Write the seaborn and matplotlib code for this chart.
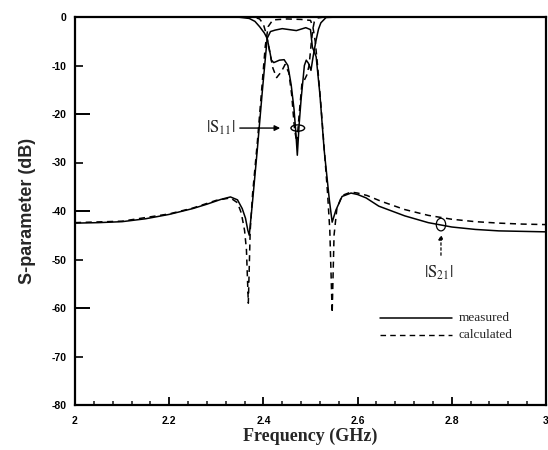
import numpy as np
import pandas as pd
import matplotlib
matplotlib.use("Agg")
import matplotlib.pyplot as plt
from matplotlib.patches import Ellipse
from matplotlib.ticker import MultipleLocator, FormatStrFormatter
import seaborn as sns

# |S21| measured (GHz, dB)
s21_meas_f = [2.00, 2.05, 2.10, 2.15, 2.20, 2.25, 2.28, 2.31, 2.33, 2.345, 2.355, 2.362, 2.367,
              2.370, 2.377, 2.387, 2.398, 2.408, 2.415, 2.425, 2.44, 2.455, 2.47, 2.48, 2.49,
              2.50, 2.504, 2.512, 2.52, 2.529, 2.540, 2.546, 2.554, 2.567, 2.586, 2.60, 2.618,
              2.645, 2.70, 2.75, 2.80, 2.85, 2.90, 2.95, 3.00]
s21_meas_db = [-42.5, -42.4, -42.2, -41.6, -40.7, -39.5, -38.6, -37.6, -37.1, -37.7, -39.5, -41.5, -44.0,
               -45.0, -38.0, -27.4, -15.0, -4.4, -3.0, -2.7, -2.4, -2.6, -2.8, -2.5, -2.2,
               -2.6, -6.2, -8.2, -16.0, -27.4, -37.7, -42.3, -39.8, -37.0, -36.3, -36.6, -37.3,
               -39.0, -41.0, -42.4, -43.3, -43.8, -44.1, -44.2, -44.3]

# |S21| calculated
s21_calc_f = [2.00, 2.10, 2.20, 2.25, 2.30, 2.33, 2.345, 2.353, 2.360, 2.364, 2.368, 2.372, 2.377,
              2.387, 2.398, 2.404, 2.41, 2.42, 2.45, 2.48, 2.50, 2.505, 2.51, 2.515, 2.522,
              2.529, 2.536, 2.541, 2.546, 2.550, 2.556, 2.567, 2.586, 2.60, 2.62, 2.65, 2.70,
              2.75, 2.80, 2.85, 2.90, 2.95, 3.00]
s21_calc_db = [-42.4, -42.1, -40.6, -39.4, -37.8, -37.3, -38.3, -40.4, -44.0, -48.0, -59.0, -44.0, -36.5,
               -26.0, -13.0, -6.0, -2.0, -0.6, -0.4, -0.5, -0.7, -2.0, -5.0, -10.0, -18.0,
               -27.0, -36.0, -44.0, -61.0, -45.0, -39.5, -36.8, -36.1, -36.3, -36.8, -38.0, -39.7,
               -40.9, -41.7, -42.2, -42.5, -42.7, -42.8]

# |S11| measured
s11_meas_f = [2.00, 2.30, 2.349, 2.370, 2.382, 2.392, 2.402, 2.408, 2.413, 2.417, 2.422, 2.427,
              2.434, 2.444, 2.452, 2.459, 2.465, 2.469, 2.472, 2.476, 2.480, 2.487, 2.491,
              2.496, 2.501, 2.505, 2.508, 2.512, 2.517, 2.522, 2.533, 2.56, 3.00]
s11_meas_db = [0.0, 0.0, -0.05, -0.3, -0.9, -2.0, -3.3, -4.4, -6.8, -8.9, -9.4, -9.2,
               -8.9, -8.8, -10.0, -14.0, -19.0, -24.0, -28.5, -22.0, -17.0, -10.0, -8.9,
               -9.6, -11.0, -8.5, -6.8, -4.7, -2.5, -1.2, -0.1, 0.0, 0.0]

# |S11| calculated
s11_calc_f = [2.00, 2.38, 2.392, 2.400, 2.406, 2.413, 2.420, 2.428, 2.438, 2.446, 2.454, 2.460,
              2.466, 2.471, 2.476, 2.482, 2.487, 2.492, 2.497, 2.502, 2.505, 2.508, 2.515, 2.53, 3.00]
s11_calc_db = [0.0, -0.05, -0.4, -1.5, -3.5, -7.0, -10.5, -12.5, -11.3, -9.8, -11.5, -16.0,
               -23.0, -26.0, -20.0, -13.5, -13.0, -12.0, -10.0, -5.0, -2.5, -1.0, -0.2, 0.0, 0.0]

df = pd.concat([
    pd.DataFrame({"f": s21_meas_f, "dB": s21_meas_db, "curve": "s21_meas", "kind": "measured"}),
    pd.DataFrame({"f": s11_meas_f, "dB": s11_meas_db, "curve": "s11_meas", "kind": "measured"}),
    pd.DataFrame({"f": s21_calc_f, "dB": s21_calc_db, "curve": "s21_calc", "kind": "calculated"}),
    pd.DataFrame({"f": s11_calc_f, "dB": s11_calc_db, "curve": "s11_calc", "kind": "calculated"}),
], ignore_index=True)

sns.set_style("ticks")
plt.rcParams["font.family"] = ["Liberation Sans", "DejaVu Sans"]
SERIF = ["Liberation Serif", "DejaVu Serif"]

fig = plt.figure(figsize=(5.48, 4.5), dpi=100)
ax = fig.add_axes([75 / 548, 45 / 450, 471 / 548, 388 / 450])

sns.lineplot(data=df, x="f", y="dB", units="curve", style="kind", estimator=None, sort=False,
             color="black", dashes={"measured": "", "calculated": (4, 3)},
             style_order=["measured", "calculated"], linewidth=1.1, legend=False, ax=ax)

ax.set_xlim(2, 3)
ax.set_ylim(-80, 0)
ax.xaxis.set_major_locator(MultipleLocator(0.2))
ax.xaxis.set_minor_locator(MultipleLocator(0.04))
ax.xaxis.set_major_formatter(FormatStrFormatter("%g"))
ax.yaxis.set_major_locator(MultipleLocator(20))
ax.yaxis.set_minor_locator(MultipleLocator(10))
ax.yaxis.set_major_formatter(FormatStrFormatter("%d"))
ax.yaxis.set_minor_formatter(FormatStrFormatter("%d"))

for s in ax.spines.values():
    s.set_linewidth(1.6)
    s.set_color("black")

ax.tick_params(axis="x", which="major", direction="in", length=6, width=1.3, pad=8,
               labelsize=7.5, colors="black")
ax.tick_params(axis="x", which="minor", direction="in", length=3, width=1.2)
ax.tick_params(axis="y", which="major", direction="in", length=11, width=1.4, pad=6,
               labelsize=7.5, colors="black")
ax.tick_params(axis="y", which="minor", direction="in", length=5.5, width=1.4, pad=6,
               labelsize=7.5, labelcolor="black")
for lab in ax.get_xticklabels() + ax.get_yticklabels() + ax.get_yticklabels(minor=True):
    lab.set_fontweight("bold")

ax.set_xlabel("Frequency (GHz)", family=SERIF, fontweight="bold", fontsize=13, labelpad=1)
ax.set_ylabel("S-parameter (dB)", fontweight="bold", fontsize=13, labelpad=11)

# |S11| annotation
ax.add_patch(Ellipse((2.473, -22.9), 0.029, 1.3, fill=False, color="black", lw=1.0))
ax.annotate("", xy=(2.4415, -22.9), xytext=(2.344, -22.9),
            arrowprops=dict(arrowstyle="-|>", color="black", lw=1.0, mutation_scale=8))
ax.text(2.340, -22.9, r"$|\mathrm{S}_{11}|$", ha="right", va="center", fontsize=12,
        family=SERIF, math_fontfamily="stix")

# |S21| annotation
ax.add_patch(Ellipse((2.777, -42.8), 0.02, 2.6, fill=False, color="black", lw=0.9))
ax.annotate("", xy=(2.777, -44.3), xytext=(2.777, -49.7),
            arrowprops=dict(arrowstyle="-|>", color="black", lw=0.9, ls=(0, (2, 2)),
                            mutation_scale=7))
ax.text(2.772, -52.7, r"$|\mathrm{S}_{21}|$", ha="center", va="center", fontsize=12,
        family=SERIF, math_fontfamily="stix")

# legend, drawn by hand without frame
ax.plot([2.647, 2.80], [-62.1, -62.1], color="black", lw=1.1)
ax.plot([2.647, 2.80], [-65.6, -65.6], color="black", lw=1.0, ls=(0, (4, 3)))
ax.text(2.815, -62.1, "measured", va="center", fontsize=9.5, family=SERIF)
ax.text(2.815, -65.6, "calculated", va="center", fontsize=9.5, family=SERIF)

fig.savefig("out.png", dpi=100)
